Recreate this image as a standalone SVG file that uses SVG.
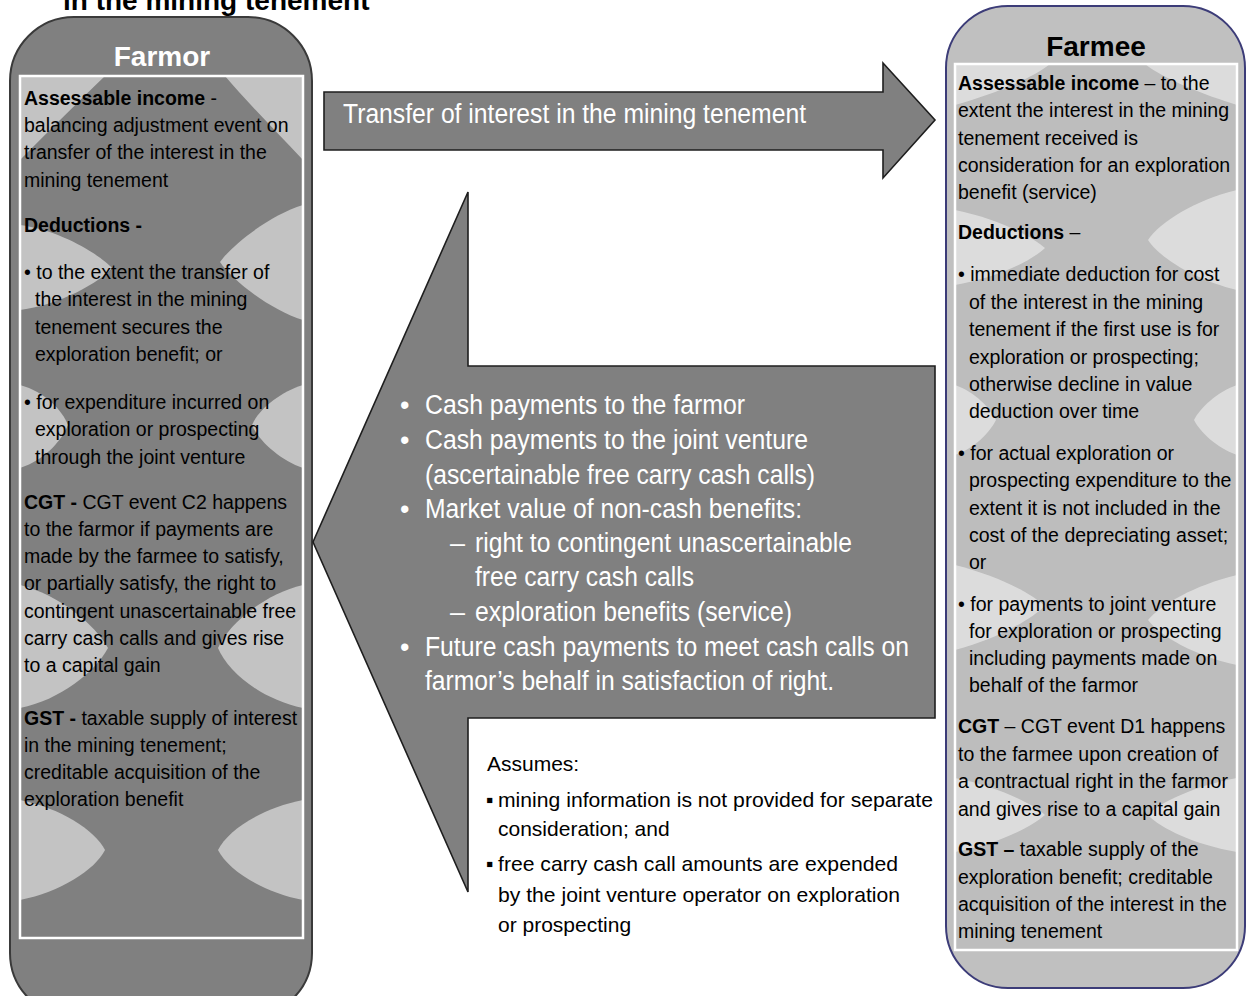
<svg xmlns="http://www.w3.org/2000/svg" width="1250" height="996" viewBox="0 0 1250 996">
<style>
.t{font-family:"Liberation Sans",Arial,sans-serif;font-size:19.5px;fill:#000}
.b{font-weight:bold}
.n{font-family:"Liberation Sans Narrow","Liberation Sans",Arial,sans-serif;font-size:27px;fill:#fff}
.a{font-family:"Liberation Sans",Arial,sans-serif;font-size:21px;fill:#000}
.title{font-family:"Liberation Sans",Arial,sans-serif;font-weight:bold;font-size:28px}
.arrow{fill:#808080;stroke:#1e1e1e;stroke-width:1.6;stroke-linejoin:miter}
.lensD{fill:#cfcfcf;opacity:.85}
.lensL{fill:#e2e2e2;opacity:.85}
</style>
<defs>
<clipPath id="cpL"><rect x="20" y="76" width="283" height="862"/></clipPath>
<clipPath id="cpR"><rect x="955" y="64" width="282" height="886"/></clipPath>
</defs>
<rect width="1250" height="996" fill="#fff"/>

<text class="title" x="63" y="10" fill="#000">in the mining tenement</text>

<g id="farmor">
<rect x="10" y="17" width="302" height="1000" rx="64" ry="64" fill="#808080" stroke="#3a3a3a" stroke-width="2"/>
<rect x="20" y="76" width="283" height="862" fill="#808080"/>
<g clip-path="url(#cpL)">
<path class="lensD" d="M20,60 L105,76 C80,100 50,130 20,160 Z"/>
<path class="lensD" d="M303,60 L225,76 C245,100 275,130 303,160 Z"/>
<path class="lensD" d="M20,225 C60,230 100,255 112,268 C100,282 60,305 20,310 Z"/>
<path class="lensD" d="M303,205 C270,215 232,245 220,262 C232,280 270,310 303,320 Z"/>
<path class="lensD" d="M20,385 C45,392 62,410 68,425 C62,440 45,460 20,468 Z"/>
<path class="lensD" d="M303,385 C280,392 258,410 252,425 C258,440 280,460 303,468 Z"/>
<path class="lensD" d="M20,585 C60,595 95,625 108,648 C95,672 60,700 20,708 Z"/>
<path class="lensD" d="M303,585 C262,595 228,625 218,648 C228,672 262,700 303,708 Z"/>
<path class="lensD" d="M20,800 C60,808 95,830 105,850 C95,870 60,892 20,900 Z"/>
<path class="lensD" d="M303,800 C262,808 228,830 218,850 C228,870 262,892 303,900 Z"/>
</g>
<rect x="20" y="76" width="283" height="862" fill="none" stroke="#fff" stroke-width="2.5"/>
<text class="title" x="162" y="66" text-anchor="middle" fill="#fff">Farmor</text>
<text class="t" x="24" y="105"><tspan class="b">Assessable income</tspan> -</text>
<text class="t" x="24" y="132">balancing adjustment event on</text>
<text class="t" x="24" y="159">transfer of the interest in the</text>
<text class="t" x="24" y="187">mining tenement</text>
<text class="t b" x="24" y="232">Deductions -</text>
<text class="t" x="24" y="279">• to the extent the transfer of</text>
<text class="t" x="35" y="306">the interest in the mining</text>
<text class="t" x="35" y="334">tenement secures the</text>
<text class="t" x="35" y="361">exploration benefit; or</text>
<text class="t" x="24" y="409">• for expenditure incurred on</text>
<text class="t" x="35" y="436">exploration or prospecting</text>
<text class="t" x="35" y="464">through the joint venture</text>
<text class="t" x="24" y="509"><tspan class="b">CGT -</tspan> CGT event C2 happens</text>
<text class="t" x="24" y="536">to the farmor if payments are</text>
<text class="t" x="24" y="563">made by the farmee to satisfy,</text>
<text class="t" x="24" y="590">or partially satisfy, the right to</text>
<text class="t" x="24" y="618">contingent unascertainable free</text>
<text class="t" x="24" y="645">carry cash calls and gives rise</text>
<text class="t" x="24" y="672">to a capital gain</text>
<text class="t" x="24" y="725"><tspan class="b">GST -</tspan> taxable supply of interest</text>
<text class="t" x="24" y="752">in the mining tenement;</text>
<text class="t" x="24" y="779">creditable acquisition of the</text>
<text class="t" x="24" y="806">exploration benefit</text>
</g>

<g id="farmee">
<rect x="946" y="6" width="299" height="982" rx="62" ry="62" fill="#c0c0c0" stroke="#3c3c78" stroke-width="2"/>
<rect x="955" y="64" width="282" height="886" fill="#bdbdbd"/>
<g clip-path="url(#cpR)">
<path class="lensL" d="M955,55 L1050,64 C1030,80 990,95 955,105 Z"/>
<path class="lensL" d="M1237,55 L1145,64 C1165,80 1205,95 1237,105 Z"/>
<path class="lensL" d="M955,210 C995,218 1030,235 1045,248 C1030,262 995,278 955,285 Z"/>
<path class="lensL" d="M1237,190 C1195,200 1160,222 1148,240 C1160,258 1195,280 1237,290 Z"/>
<path class="lensL" d="M955,385 C975,392 990,408 996,420 C990,432 975,448 955,455 Z"/>
<path class="lensL" d="M1237,385 C1217,392 1200,408 1194,420 C1200,432 1217,448 1237,455 Z"/>
<path class="lensL" d="M955,565 C995,575 1030,592 1045,606 C1030,620 995,640 955,650 Z"/>
<path class="lensL" d="M1237,575 C1195,585 1160,605 1148,620 C1160,636 1195,656 1237,665 Z"/>
<path class="lensL" d="M955,778 C995,786 1030,802 1045,815 C1030,828 995,845 955,852 Z"/>
<path class="lensL" d="M1237,778 C1195,786 1160,802 1148,815 C1160,828 1195,845 1237,852 Z"/>
</g>
<rect x="955" y="64" width="282" height="886" fill="none" stroke="#fff" stroke-width="2.5"/>
<text class="title" x="1096" y="56" text-anchor="middle" fill="#000">Farmee</text>
<text class="t" x="958" y="90"><tspan class="b">Assessable income</tspan> – to the</text>
<text class="t" x="958" y="117">extent the interest in the mining</text>
<text class="t" x="958" y="145">tenement received is</text>
<text class="t" x="958" y="172">consideration for an exploration</text>
<text class="t" x="958" y="199">benefit (service)</text>
<text class="t" x="958" y="239"><tspan class="b">Deductions</tspan> –</text>
<text class="t" x="958" y="281">• immediate deduction for cost</text>
<text class="t" x="969" y="309">of the interest in the mining</text>
<text class="t" x="969" y="336">tenement if the first use is for</text>
<text class="t" x="969" y="364">exploration or prospecting;</text>
<text class="t" x="969" y="391">otherwise decline in value</text>
<text class="t" x="969" y="418">deduction over time</text>
<text class="t" x="958" y="460">• for actual exploration or</text>
<text class="t" x="969" y="487">prospecting expenditure to the</text>
<text class="t" x="969" y="515">extent it is not included in the</text>
<text class="t" x="969" y="542">cost of the depreciating asset;</text>
<text class="t" x="969" y="569">or</text>
<text class="t" x="958" y="611">• for payments to joint venture</text>
<text class="t" x="969" y="638">for exploration or prospecting</text>
<text class="t" x="969" y="665">including payments made on</text>
<text class="t" x="969" y="692">behalf of the farmor</text>
<text class="t" x="958" y="733"><tspan class="b">CGT</tspan> – CGT event D1 happens</text>
<text class="t" x="958" y="761">to the farmee upon creation of</text>
<text class="t" x="958" y="788">a contractual right in the farmor</text>
<text class="t" x="958" y="816">and gives rise to a capital gain</text>
<text class="t" x="958" y="856"><tspan class="b">GST –</tspan> taxable supply of the</text>
<text class="t" x="958" y="884">exploration benefit; creditable</text>
<text class="t" x="958" y="911">acquisition of the interest in the</text>
<text class="t" x="958" y="938">mining tenement</text>
</g>

<g id="connectors">
<g id="transfer-arrow">
<polygon class="arrow" points="324,92 883,92 883,63 935,120 883,178 883,150 324,150"/>
<text class="n" x="343" y="123" textLength="463" lengthAdjust="spacingAndGlyphs">Transfer of interest in the mining tenement</text>
</g>
<g id="consideration-arrow">
<polygon class="arrow" points="313,542 468,192 468,366 935,366 935,718 468,718 468,892"/>
<text class="n" x="400" y="414">•</text>
<text class="n" x="425" y="414" textLength="320" lengthAdjust="spacingAndGlyphs">Cash payments to the farmor</text>
<text class="n" x="400" y="449">•</text>
<text class="n" x="425" y="449" textLength="383" lengthAdjust="spacingAndGlyphs">Cash payments to the joint venture</text>
<text class="n" x="425" y="484" textLength="390" lengthAdjust="spacingAndGlyphs">(ascertainable free carry cash calls)</text>
<text class="n" x="400" y="518">•</text>
<text class="n" x="425" y="518" textLength="377" lengthAdjust="spacingAndGlyphs">Market value of non-cash benefits:</text>
<text class="n" x="450" y="552">–</text>
<text class="n" x="475" y="552" textLength="377" lengthAdjust="spacingAndGlyphs">right to contingent unascertainable</text>
<text class="n" x="475" y="586" textLength="219" lengthAdjust="spacingAndGlyphs">free carry cash calls</text>
<text class="n" x="450" y="621">–</text>
<text class="n" x="475" y="621" textLength="317" lengthAdjust="spacingAndGlyphs">exploration benefits (service)</text>
<text class="n" x="400" y="656">•</text>
<text class="n" x="425" y="656" textLength="484" lengthAdjust="spacingAndGlyphs">Future cash payments to meet cash calls on</text>
<text class="n" x="425" y="690" textLength="409" lengthAdjust="spacingAndGlyphs">farmor’s behalf in satisfaction of right.</text>
</g>
</g>

<g id="assumes">
<text class="a" x="487" y="771">Assumes:</text>
<text class="a" x="486" y="807">▪</text>
<text class="a" x="498" y="807" textLength="435" lengthAdjust="spacingAndGlyphs">mining information is not provided for separate</text>
<text class="a" x="498" y="836">consideration; and</text>
<text class="a" x="486" y="871">▪</text>
<text class="a" x="498" y="871" textLength="400" lengthAdjust="spacingAndGlyphs">free carry cash call amounts are expended</text>
<text class="a" x="498" y="902" textLength="402" lengthAdjust="spacingAndGlyphs">by the joint venture operator on exploration</text>
<text class="a" x="498" y="932">or prospecting</text>
</g>
</svg>
